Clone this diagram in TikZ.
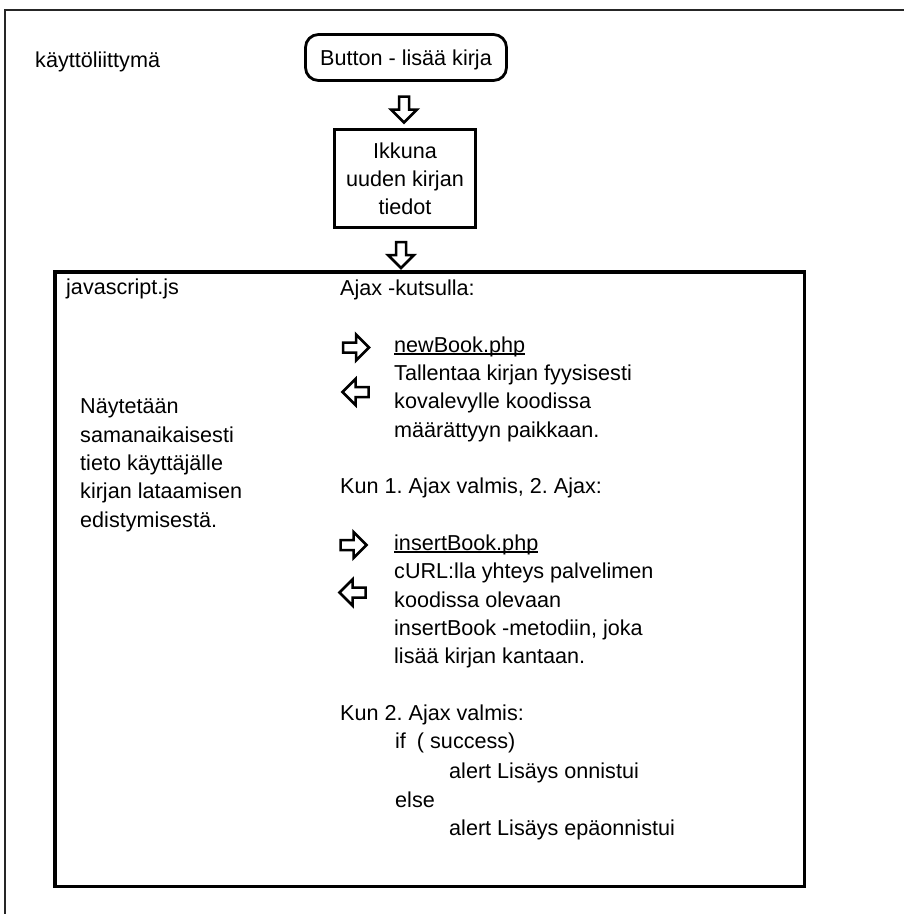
\documentclass[tikz,border=0pt]{standalone}
\usepackage{fontspec}
\setmainfont{Liberation Sans}
\frenchspacing
\begin{document}
\begin{tikzpicture}[x=1pt,y=1pt,
  txt/.style={anchor=base west, inner sep=0pt, font=\fontsize{21.6}{28.5}\selectfont},
  btnbox/.style={draw, line width=2.8pt, rounded corners=13pt, inner sep=0pt,
    minimum width=201, minimum height=46, text height=15.5pt, text depth=0.5pt,
    font=\fontsize{21.6}{28.5}\selectfont},
  winbox/.style={draw, line width=2.8pt, inner sep=0pt, align=center,
    minimum width=141, minimum height=98, font=\fontsize{21.6}{28}\selectfont},
  mainbox/.style={draw, line width=3.5pt, inner sep=0pt},
  frameline/.style={draw=black!85, line width=1.3pt},
  uline/.style={line width=1.1pt},
  blockarr/.pic={\draw[line width=2.5pt, line join=miter, miter limit=10]
      (0,5) -- (13,5) -- (13,13) -- (26,0) -- (13,-13) -- (13,-5) -- (0,-5) -- cycle;}
]
\useasboundingbox (0,0) rectangle (904,-914);
\fill[white] (0,0) rectangle (904,-914);
\draw[frameline] (5,-914) -- (5,-10) -- (904,-10);

% top part
\node[txt] (ui) at (35,-67) {käyttöliittymä};
\node[btnbox] (btn) at (406,-57.5) {Button - lisää kirja};
\node[winbox] (win) at (405,-178.5) {Ikkuna\\uuden kirjan\\tiedot};
\node[mainbox, minimum width=749.5, minimum height=614.5] (js) at (429.5,-579) {};

% down arrows
\pic[rotate=-90] at (404,-96.5) {blockarr};
\pic[rotate=-90] at (401,-242) {blockarr};

% left column
\node[txt] (jsname) at (66,-294) {javascript.js};
\node[txt] (n1) at (80,-413) {Näytetään};
\node[txt] (n2) at (80,-442) {samanaikaisesti};
\node[txt] (n3) at (80,-470) {tieto käyttäjälle};
\node[txt] (n4) at (80,-498) {kirjan lataamisen};
\node[txt] (n5) at (80,-527) {edistymisestä.};

% right column
\node[txt] (a0) at (340,-295) {Ajax -kutsulla:};
\node[txt] (nb) at (394,-352) {newBook.php};
\node[txt] (a1) at (394,-380) {Tallentaa kirjan fyysisesti};
\node[txt] (a2) at (394,-408) {kovalevylle koodissa};
\node[txt] (a3) at (394,-437) {määrättyyn paikkaan.};
\node[txt] (k1) at (340,-493) {Kun 1. Ajax valmis, 2. Ajax:};
\node[txt] (ib) at (394,-550) {insertBook.php};
\node[txt] (b1) at (394,-578) {cURL:lla yhteys palvelimen};
\node[txt] (b2) at (394,-607) {koodissa olevaan};
\node[txt] (b3) at (394,-635) {insertBook -metodiin, joka};
\node[txt] (b4) at (394,-663) {lisää kirjan kantaan.};
\node[txt] (k2) at (340,-720) {Kun 2. Ajax valmis:};
\node[txt] (c1) at (395,-748) {if\hspace{5pt} ( success)};
\node[txt] (c2) at (449,-778) {alert Lisäys onnistui};
\node[txt] (c3) at (395,-807) {else};
\node[txt] (c4) at (449,-835) {alert Lisäys epäonnistui};

% underlines
\draw[uline] ([yshift=-2pt]nb.base west) -- ([yshift=-2pt]nb.base east);
\draw[uline] ([yshift=-2pt]ib.base west) -- ([yshift=-2pt]ib.base east);

% side arrows
\pic at (343,-347.5) {blockarr};
\pic[rotate=180] at (368.5,-392) {blockarr};
\pic at (340.5,-545) {blockarr};
\pic[rotate=180] at (365.5,-592.5) {blockarr};
\end{tikzpicture}
\end{document}
